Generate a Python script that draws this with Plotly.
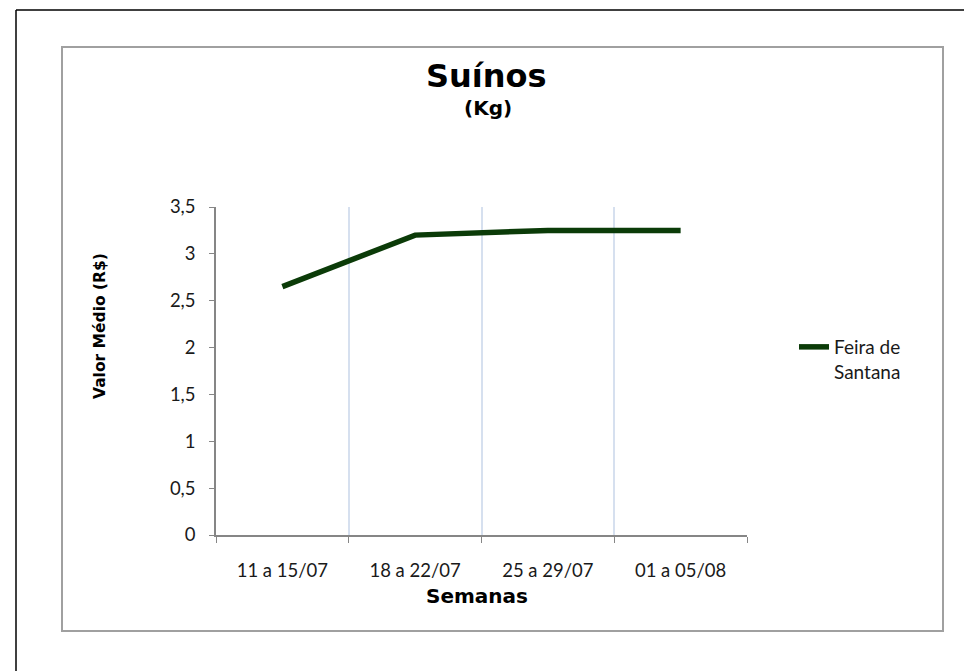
import plotly.graph_objects as go

categories = ["11 a 15/07", "18 a 22/07", "25 a 29/07", "01 a 05/08"]
values = [2.65, 3.2, 3.25, 3.25]
series_name = "Feira de<br>Santana"
y_ticks = [0, 0.5, 1, 1.5, 2, 2.5, 3, 3.5]
y_tick_labels = ["0", "0,5", "1", "1,5", "2", "2,5", "3", "3,5"]

W, H = 964, 671
L, R, T, B = 216, 747, 207, 535


def px(x):
    return (x - L) / (R - L)


def py(y):
    return (B - y) / (B - T)


label_font = dict(family="Lato, Open Sans, sans-serif", size=18.5, color="#1a1a1a")

fig = go.Figure()
fig.add_trace(go.Scatter(
    x=categories, y=values, mode="lines", name=series_name,
    line=dict(color="#0b3b08", width=5.5), showlegend=True,
))

fig.update_layout(
    width=W, height=H,
    margin=dict(l=L, r=W - R, t=T, b=H - B),
    paper_bgcolor="white", plot_bgcolor="white",
    xaxis=dict(
        type="category", range=[-0.5, 3.5], tickson="boundaries",
        showgrid=True, gridcolor="#d6e0ef", gridwidth=1.5,
        showline=True, linecolor="#868686", linewidth=1.5,
        ticks="outside", ticklen=6, tickcolor="#868686",
        tickfont=label_font, zeroline=False, ticklabelstandoff=18,
    ),
    yaxis=dict(
        range=[0, 3.5], tickvals=y_ticks, ticktext=y_tick_labels,
        showgrid=False, zeroline=False,
        showline=True, linecolor="#868686", linewidth=1.5,
        ticks="outside", ticklen=5, tickcolor="#868686",
        tickfont=label_font, ticklabelstandoff=10,
    ),
    legend=dict(
        x=px(794), y=py(328), xanchor="left", yanchor="top",
        font=dict(family="Lato, Open Sans, sans-serif", size=19, color="#1a1a1a"),
        valign="top", bgcolor="rgba(0,0,0,0)", itemwidth=30,
        tracegroupgap=0,
    ),
    showlegend=True,
    shapes=[
        dict(type="line", xref="paper", yref="paper", x0=px(16), x1=px(W + 5),
             y0=py(10), y1=py(10), line=dict(color="black", width=1.5)),
        dict(type="line", xref="paper", yref="paper", x0=px(16), x1=px(16),
             y0=py(10), y1=py(H + 5), line=dict(color="black", width=1.5)),
        dict(type="rect", xref="paper", yref="paper", x0=px(62), x1=px(943),
             y0=py(631), y1=py(47), line=dict(color="#a0a0a0", width=2),
             layer="below"),
    ],
    annotations=[
        dict(text="<b>Suínos</b>", xref="paper", yref="paper", x=px(486), y=py(76),
             showarrow=False, xanchor="center", yanchor="middle",
             font=dict(family="DejaVu Sans, Arial Black, sans-serif", size=32, color="black")),
        dict(text="<b>(Kg)</b>", xref="paper", yref="paper", x=px(488), y=py(108),
             showarrow=False, xanchor="center", yanchor="middle",
             font=dict(family="DejaVu Sans, Arial, sans-serif", size=20, color="black")),
        dict(text="<b>Semanas</b>", xref="paper", yref="paper", x=px(477), y=py(596),
             showarrow=False, xanchor="center", yanchor="middle",
             font=dict(family="DejaVu Sans, Arial, sans-serif", size=20, color="black")),
        dict(text="<b>Valor Médio (R$)</b>", xref="paper", yref="paper", x=px(100), y=py(326),
             showarrow=False, xanchor="center", yanchor="middle", textangle=-90,
             font=dict(family="DejaVu Sans, Arial Narrow, sans-serif",
                       size=15.5, color="black")),
    ],
)

fig.write_html("out.html", config={"displayModeBar": False})
with open("out.html", "r", encoding="utf-8") as f:
    html = f.read()
html = html.replace("<head>", "<head><style>html,body{margin:0;padding:0;overflow:hidden;}</style>", 1)
with open("out.html", "w", encoding="utf-8") as f:
    f.write(html)
